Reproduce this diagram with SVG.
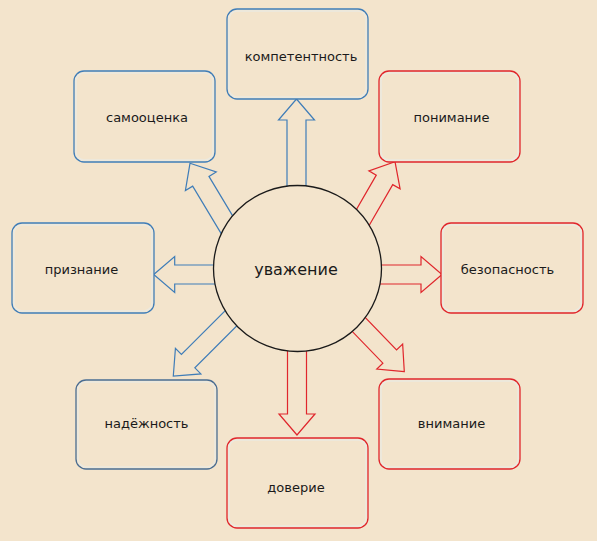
<svg xmlns="http://www.w3.org/2000/svg" width="597" height="541" viewBox="0 0 597 541">
  <style>
    .bg { fill: #f3e4cc; }
    .box { fill: #f3e4cc; stroke-width: 1.3; }
    .blue { stroke: #3f7db8; }
    .red { stroke: #e0262c; }
    .glow { fill: none; stroke: #ece9df; stroke-width: 1.6; }
    .arrow { fill: #f3e4cc; stroke-width: 1.2; stroke-linejoin: miter; }
    .lbl { font-family: "DejaVu Sans", Verdana, sans-serif; font-size: 13px; fill: #1a1a1a; text-anchor: middle; }
    .center { font-family: "DejaVu Sans", Verdana, sans-serif; font-size: 16px; fill: #1a1a1a; text-anchor: middle; }
  </style>
  <defs>
    <path id="arr" d="M0,0 L18,21 L9.5,21 L9.5,100 L-9.5,100 L-9.5,21 L-18,21 Z"/>
    <path id="arrS" d="M0,0 L18,21 L9.5,21 L9.5,75 L-9.5,75 L-9.5,21 L-18,21 Z"/>
  </defs>
  <rect class="bg" x="0" y="0" width="597" height="541"/>

  <g id="connectors">
    <use href="#arr" class="arrow blue" transform="translate(296.5,99)"/>
    <use href="#arr" class="arrow red" transform="translate(297,435) rotate(180)"/>
    <use href="#arrS" class="arrow blue" transform="translate(153.7,274.5) rotate(-90)"/>
    <use href="#arrS" class="arrow red" transform="translate(442,274.5) rotate(90)"/>
    <use href="#arr" class="arrow blue" transform="translate(190,163.3) rotate(-31)"/>
    <use href="#arr" class="arrow red" transform="translate(395,161.7) rotate(30)"/>
    <use href="#arr" class="arrow blue" transform="translate(173.3,376) rotate(-135)"/>
    <use href="#arr" class="arrow red" transform="translate(404.3,371.7) rotate(136)"/>
  </g>

  <g id="node-respect">
    <ellipse cx="297.5" cy="268.5" rx="84" ry="83" fill="#f3e4cc" stroke="#1a1a1a" stroke-width="1.3"/>
    <text class="center" x="296" y="275">уважение</text>
  </g>

  <g id="node-competence">
    <rect class="box blue" x="227" y="9" width="141" height="90" rx="10"/>
    <rect class="glow" x="229" y="11" width="137" height="86" rx="8"/>
    <text class="lbl" x="301" y="61">компетентность</text>
  </g>
  <g id="node-selfesteem">
    <rect class="box blue" x="74" y="71" width="141" height="91" rx="10"/>
    <rect class="glow" x="76" y="73" width="137" height="87" rx="8"/>
    <text class="lbl" x="147" y="122">самооценка</text>
  </g>
  <g id="node-understanding">
    <rect class="box red" x="379" y="71" width="141" height="91" rx="10"/>
    <rect class="glow" x="381" y="73" width="137" height="87" rx="8"/>
    <text class="lbl" x="451.5" y="122">понимание</text>
  </g>
  <g id="node-recognition">
    <rect class="box blue" x="12" y="223" width="142" height="90" rx="10"/>
    <rect class="glow" x="14" y="225" width="138" height="86" rx="8"/>
    <text class="lbl" x="81.5" y="273.5">признание</text>
  </g>
  <g id="node-safety">
    <rect class="box red" x="441" y="223" width="142" height="90" rx="10"/>
    <rect class="glow" x="443" y="225" width="138" height="86" rx="8"/>
    <text class="lbl" x="507.5" y="273.5">безопасность</text>
  </g>
  <g id="node-reliability">
    <rect class="box blue" x="76" y="380" width="141" height="89" rx="10" style="stroke:#4a6d92"/>
    <rect class="glow" x="78" y="382" width="137" height="85" rx="8"/>
    <text class="lbl" x="146.5" y="427.5">надёжность</text>
  </g>
  <g id="node-attention">
    <rect class="box red" x="379" y="379" width="141" height="90" rx="10"/>
    <rect class="glow" x="381" y="381" width="137" height="86" rx="8"/>
    <text class="lbl" x="451.5" y="427.5">внимание</text>
  </g>
  <g id="node-trust">
    <rect class="box red" x="227" y="438" width="141" height="90" rx="10"/>
    <rect class="glow" x="229" y="440" width="137" height="86" rx="8"/>
    <text class="lbl" x="296" y="491.5">доверие</text>
  </g>
</svg>
